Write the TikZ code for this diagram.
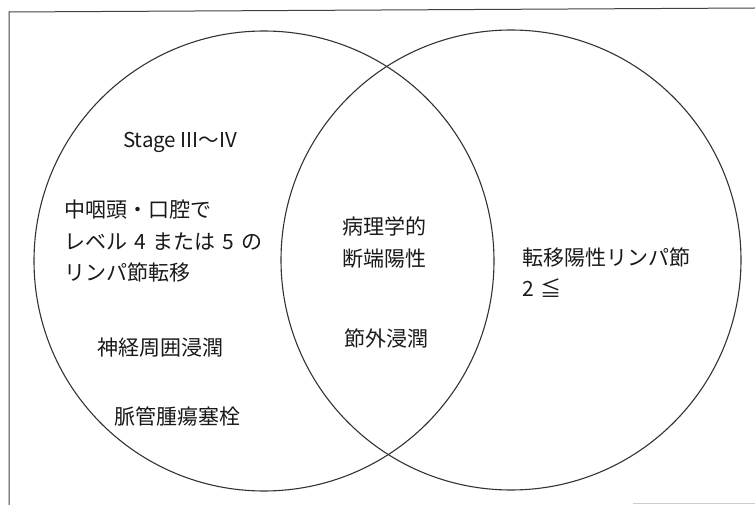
\documentclass[tikz,border=0pt]{standalone}
\usepackage{fontspec}
\setmainfont{Noto Sans CJK JP}
\newcommand{\gapsp}{\hspace{7pt}}
\begin{document}
\begin{tikzpicture}[x=1pt,y=-1pt,
  ring/.style={draw=black!80,line width=1.1pt},
  frameline/.style={draw=black!75,line width=1pt},
  lbl/.style={inner sep=0pt,anchor=west,align=left,text=black!90,
    font=\fontsize{21}{31.5}\selectfont}]
\useasboundingbox (0,0) rectangle (755,505);
\draw[frameline] (9,505) -- (9,12) -- (755,8);
\draw[draw=black!20,line width=1pt] (633,503) -- (755,503);
\draw[ring] (264,261) circle (230);
\draw[ring] (511,260) circle (230);
\node[lbl,font=\fontsize{20.5}{24}\selectfont] (stage) at (123,142) {Stage III〜IV};
\node[lbl] (oro) at (64,241.5) {中咽頭・口腔で\\レベル\gapsp4\gapsp または\gapsp5\gapsp の\\リンパ節転移};
\node[lbl] (nerve) at (97,348) {神経周囲浸潤};
\node[lbl] (vasc) at (114,416) {脈管腫瘍塞栓};
\node[lbl] (path) at (342,242.5) {病理学的\\断端陽性};
\node[lbl] (ext) at (344,338) {節外浸潤};
\node[lbl] (meta) at (522,272.5) {転移陽性リンパ節\\2\gapsp≦};
\end{tikzpicture}
\end{document}
